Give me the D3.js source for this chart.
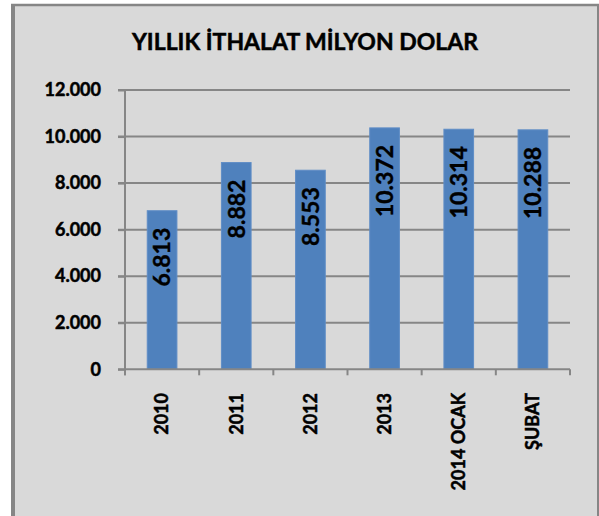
<!DOCTYPE html>
<html><head><meta charset="utf-8">
<script src="https://cdn.jsdelivr.net/npm/d3@7"></script>
<style>html,body{margin:0;padding:0;background:#fff;}svg{display:block;}</style>
</head><body>
<script>
const title = "YILLIK İTHALAT MİLYON DOLAR";
const categories = ["2010", "2011", "2012", "2013", "2014 OCAK", "ŞUBAT"];
const values = [6813, 8882, 8553, 10372, 10314, 10288];
const yTicks = [0, 2000, 4000, 6000, 8000, 10000, 12000];

const W = 599, H = 516;
const svg = d3.select("body").append("svg").attr("width", W).attr("height", H);
const loc = d3.formatLocale({decimal: ",", thousands: ".", grouping: [3], currency: ["", ""]});
const fmt = loc.format(",");

// frame
svg.append("rect").attr("x", 13).attr("y", 5).attr("width", 585).attr("height", 520)
  .attr("fill", "#d9d9d9");
svg.append("line").attr("x1", 13).attr("x2", 13).attr("y1", 4).attr("y2", H).attr("stroke", "#868686").attr("stroke-width", 4);
svg.append("line").attr("x1", 11).attr("x2", 599).attr("y1", 5).attr("y2", 5).attr("stroke", "#868686").attr("stroke-width", 2.5);
svg.append("line").attr("x1", 598).attr("x2", 598).attr("y1", 4).attr("y2", H).attr("stroke", "#868686").attr("stroke-width", 2);

// title
svg.append("text").attr("x", 305).attr("y", 50).attr("text-anchor", "middle")
  .attr("font-family", "Lato").attr("font-weight", "bold").attr("font-size", 23)
  .attr("fill", "#000").attr("stroke", "#000").attr("stroke-width", 0.5).text(title);

const x = d3.scaleBand().domain(categories).range([125, 570]).paddingInner(0.6).paddingOuter(0.3);
const y = d3.scaleLinear().domain([0, 12000]).range([369.3, 90]);

// gridlines
const g = svg.append("g");
g.selectAll("line.grid").data(yTicks.filter(d => d > 0)).join("line")
  .attr("x1", 118).attr("x2", 570).attr("y1", d => y(d)).attr("y2", d => y(d))
  .attr("stroke", "#868686").attr("stroke-width", 2);

// y axis
const yAxis = svg.append("g").attr("transform", "translate(125,0)")
  .call(d3.axisLeft(y).tickValues(yTicks).tickFormat(fmt).tickSize(7).tickPadding(17));
yAxis.select(".domain").attr("stroke", "#868686").attr("stroke-width", 2).attr("d", `M0,${y(12000)}V${y(0)+6}`);
yAxis.selectAll(".tick line").attr("stroke", "#868686").attr("stroke-width", 2);
yAxis.selectAll(".tick text").attr("font-family", "Lato").attr("font-weight", "bold")
  .attr("font-size", 18).attr("fill", "#000").attr("stroke", "#000").attr("stroke-width", 0.5);

// bars
svg.append("g").selectAll("rect").data(values).join("rect")
  .attr("x", (d, i) => x(categories[i])).attr("width", x.bandwidth())
  .attr("y", d => y(d)).attr("height", d => y(0) - y(d))
  .attr("fill", "#4f81bd").attr("stroke", "#5f8dc6").attr("stroke-width", 1);

// x axis
const step = x.step();
const bounds = categories.map(c => x(c) + x.bandwidth() / 2 - step / 2).concat([570]);
svg.append("line").attr("x1", 118).attr("x2", 570).attr("y1", y(0)).attr("y2", y(0))
  .attr("stroke", "#868686").attr("stroke-width", 2);
svg.append("g").selectAll("line").data(bounds).join("line")
  .attr("x1", d => d).attr("x2", d => d).attr("y1", y(0)).attr("y2", y(0) + 6)
  .attr("stroke", "#868686").attr("stroke-width", 2);

svg.append("g").selectAll("text").data(categories).join("text")
  .attr("transform", d => `translate(${x(d) + x.bandwidth() / 2},393) rotate(-90)`)
  .attr("text-anchor", "end").attr("dy", "0.35em")
  .attr("font-family", "Lato").attr("font-weight", "bold").attr("font-size", 18)
  .attr("fill", "#000").attr("stroke", "#000").attr("stroke-width", 0.5).text(d => d);

// data labels
svg.append("g").selectAll("text").data(values).join("text")
  .attr("transform", (d, i) => `translate(${x(categories[i]) + x.bandwidth() / 2},${y(d) + 17}) rotate(-90)`)
  .attr("text-anchor", "end").attr("dy", "0.36em")
  .attr("font-family", "Lato").attr("font-weight", "bold").attr("font-size", 23)
  .attr("fill", "#000").attr("stroke", "#000").attr("stroke-width", 0.4).text(d => fmt(d));
</script>
</body></html>
